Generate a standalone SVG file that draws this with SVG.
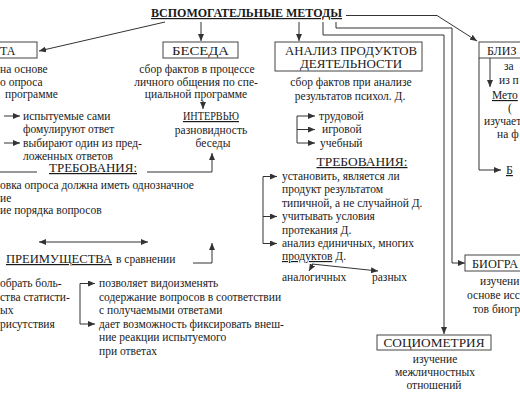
<svg xmlns="http://www.w3.org/2000/svg" width="520" height="400" viewBox="0 0 520 400">
<defs>
<marker id="ah" markerUnits="userSpaceOnUse" markerWidth="8" markerHeight="6" refX="7" refY="3" orient="auto-start-reverse">
<path d="M0,0 L7,3 L0,6 Z" fill="#333"/>
</marker>
</defs>
<style>
text{font-family:"Liberation Serif","Times New Roman",serif;fill:#1a1a1a}
.b{font-size:11.5px}
.h{font-size:12px}
.t{font-size:12px;font-weight:bold}
.u{text-decoration:underline}
.m{text-anchor:middle}
.box{fill:#fff;stroke:#444;stroke-width:1}
.c{fill:none;stroke:#333;stroke-width:1}
.a{marker-end:url(#ah)}
</style>
<rect width="520" height="400" fill="#fff"/>

<g id="connectors">
<path class="c a" d="M165,22 L39,51"/>
<path class="c a" d="M201,22 V41"/>
<path class="c a" d="M299,22 V41"/>
<path class="c a" d="M346,15.5 H437 L477,41"/>
<path class="c a" d="M323,22 V35 H444 V334"/>
<path class="c a" d="M336,22 V28 H452 V263 H465"/>
<path class="c a" d="M203,101 V109"/>
<path class="c a" d="M4,116 H20"/>
<path class="c a" d="M4,143 H20"/>
<path class="c" d="M297,116 V143"/>
<path class="c a" d="M297,116 H315"/>
<path class="c a" d="M297,129.5 H315"/>
<path class="c a" d="M297,143 H315"/>
<path class="c" d="M0,172 H37"/>
<path class="c a" d="M147,172 H212 V153"/>
<path class="c" d="M263,176.5 V243.5"/>
<path class="c a" d="M263,176.5 H277"/>
<path class="c a" d="M263,216.5 H277"/>
<path class="c a" d="M263,243.5 H277"/>
<path class="c a" d="M313,264 L309,271"/>
<path class="c a" d="M312,264 L378,271"/>
<path class="c a" d="M39,242 H148" marker-start="url(#ah)"/>
<path class="c a" d="M193,263 H212 V243"/>
<path class="c" d="M80,283.5 V324"/>
<path class="c a" d="M80,283.5 H95"/>
<path class="c a" d="M80,324 H95"/>
<path class="c a" d="M490,58 V87"/>
<path class="c a" d="M479,58 V170 H501"/>
</g>

<g id="title">
<text class="t u m" x="246.5" y="17" textLength="191" lengthAdjust="spacingAndGlyphs">ВСПОМОГАТЕЛЬНЫЕ МЕТОДЫ</text>
</g>

<g id="anketa">
<rect class="box" x="-20" y="42" width="57" height="16"/>
<text class="h" x="0" y="54.5">ТА</text>
<text class="b" x="0" y="73">на основе</text>
<text class="b" x="0" y="85.5">о опроса</text>
<text class="b" x="5" y="98">программе</text>
<text class="b" x="23" y="119.5">испытуемые сами</text>
<text class="b" x="23" y="133">фомулируют ответ</text>
<text class="b" x="23" y="146.5">выбирают один из пред-</text>
<text class="b" x="23" y="160">ложенных ответов</text>
<text class="h u m" x="93" y="172" textLength="88" lengthAdjust="spacingAndGlyphs">ТРЕБОВАНИЯ:</text>
<text class="b" x="0" y="189">овка опроса должна иметь однозначное</text>
<text class="b" x="0" y="201.5">ие</text>
<text class="b" x="0" y="214">ие порядка вопросов</text>
<text class="h" x="6" y="263"><tspan class="u" textLength="106" lengthAdjust="spacingAndGlyphs">ПРЕИМУЩЕСТВА</tspan></text>
<text class="b" x="116" y="263">в сравнении</text>
<text class="b" x="0" y="287">обрать боль-</text>
<text class="b" x="0" y="300.5">ства статисти-</text>
<text class="b" x="0" y="314">ых</text>
<text class="b" x="0" y="327.5">рисутствия</text>
<text class="b" x="99" y="287">позволяет видоизменять</text>
<text class="b" x="99" y="300.5">содержание вопросов в соответствии</text>
<text class="b" x="99" y="314">с получаемыми ответами</text>
<text class="b" x="99" y="327.5">дает возможность фиксировать внеш-</text>
<text class="b" x="99" y="341">ние реакции испытуемого</text>
<text class="b" x="99" y="354.5">при ответах</text>
</g>

<g id="beseda">
<rect class="box" x="163" y="42" width="75" height="16"/>
<text class="h m" x="200.5" y="54.5" textLength="57" lengthAdjust="spacingAndGlyphs">БЕСЕДА</text>
<text class="b m" x="197" y="73">сбор фактов в процессе</text>
<text class="b m" x="196" y="85.5">личного общения по спе-</text>
<text class="b m" x="196" y="98">циальной программе</text>
</g>

<g id="interview">
<text class="h u m" x="211" y="120" textLength="56" lengthAdjust="spacingAndGlyphs">ИНТЕРВЬЮ</text>
<text class="b m" x="211" y="133.5">разновидность</text>
<text class="b m" x="213" y="147">беседы</text>
</g>

<g id="analiz">
<rect class="box" x="275" y="42" width="147" height="29"/>
<text class="h m" x="351" y="55" textLength="132" lengthAdjust="spacingAndGlyphs">АНАЛИЗ ПРОДУКТОВ</text>
<text class="h m" x="351" y="67.5" textLength="102" lengthAdjust="spacingAndGlyphs">ДЕЯТЕЛЬНОСТИ</text>
<text class="b m" x="351" y="86">сбор фактов при анализе</text>
<text class="b m" x="350" y="99.5">результатов психол. Д.</text>
<text class="b" x="319" y="119.5">трудовой</text>
<text class="b" x="322" y="133">игровой</text>
<text class="b" x="320" y="146.5">учебный</text>
<text class="h u m" x="362" y="166" textLength="91" lengthAdjust="spacingAndGlyphs">ТРЕБОВАНИЯ:</text>
<text class="b" x="282" y="180">установить, является ли</text>
<text class="b" x="282" y="193">продукт результатом</text>
<text class="b" x="282" y="207">типичной, а не случайной Д.</text>
<text class="b" x="282" y="220">учитывать условия</text>
<text class="b" x="282" y="234">протекания Д.</text>
<text class="b" x="282" y="247">анализ единичных, многих</text>
<text class="b" x="282" y="260"><tspan class="u">продуктов</tspan> Д.</text>
<text class="b" x="282" y="281">аналогичных</text>
<text class="b" x="372" y="281">разных</text>
</g>

<g id="bliz">
<rect class="box" x="479" y="42" width="60" height="16"/>
<text class="h" x="487" y="54.5">БЛИЗ</text>
<text class="b" x="504" y="70">за</text>
<text class="b" x="499" y="84">из п</text>
<text class="b u" x="492" y="99">Мето</text>
<text class="b" x="508" y="112">(</text>
<text class="b" x="484" y="125">изучает</text>
<text class="b" x="497" y="138">на ф</text>
<text class="h u" x="506" y="174">Б</text>
</g>

<g id="biograf">
<rect class="box" x="465" y="255" width="70" height="16"/>
<text class="h" x="472" y="267.5" textLength="46" lengthAdjust="spacingAndGlyphs">БИОГРА</text>
<text class="b" x="480" y="285">изучени</text>
<text class="b" x="467" y="299">основе исс</text>
<text class="b" x="473" y="313">тов биогр</text>
</g>

<g id="sociometria">
<rect class="box" x="377" y="335" width="114" height="15"/>
<text class="h m" x="434" y="347" textLength="101" lengthAdjust="spacingAndGlyphs">СОЦИОМЕТРИЯ</text>
<text class="b m" x="435" y="363">изучение</text>
<text class="b m" x="435" y="376">межличностных</text>
<text class="b m" x="434" y="389">отношений</text>
</g>
</svg>
